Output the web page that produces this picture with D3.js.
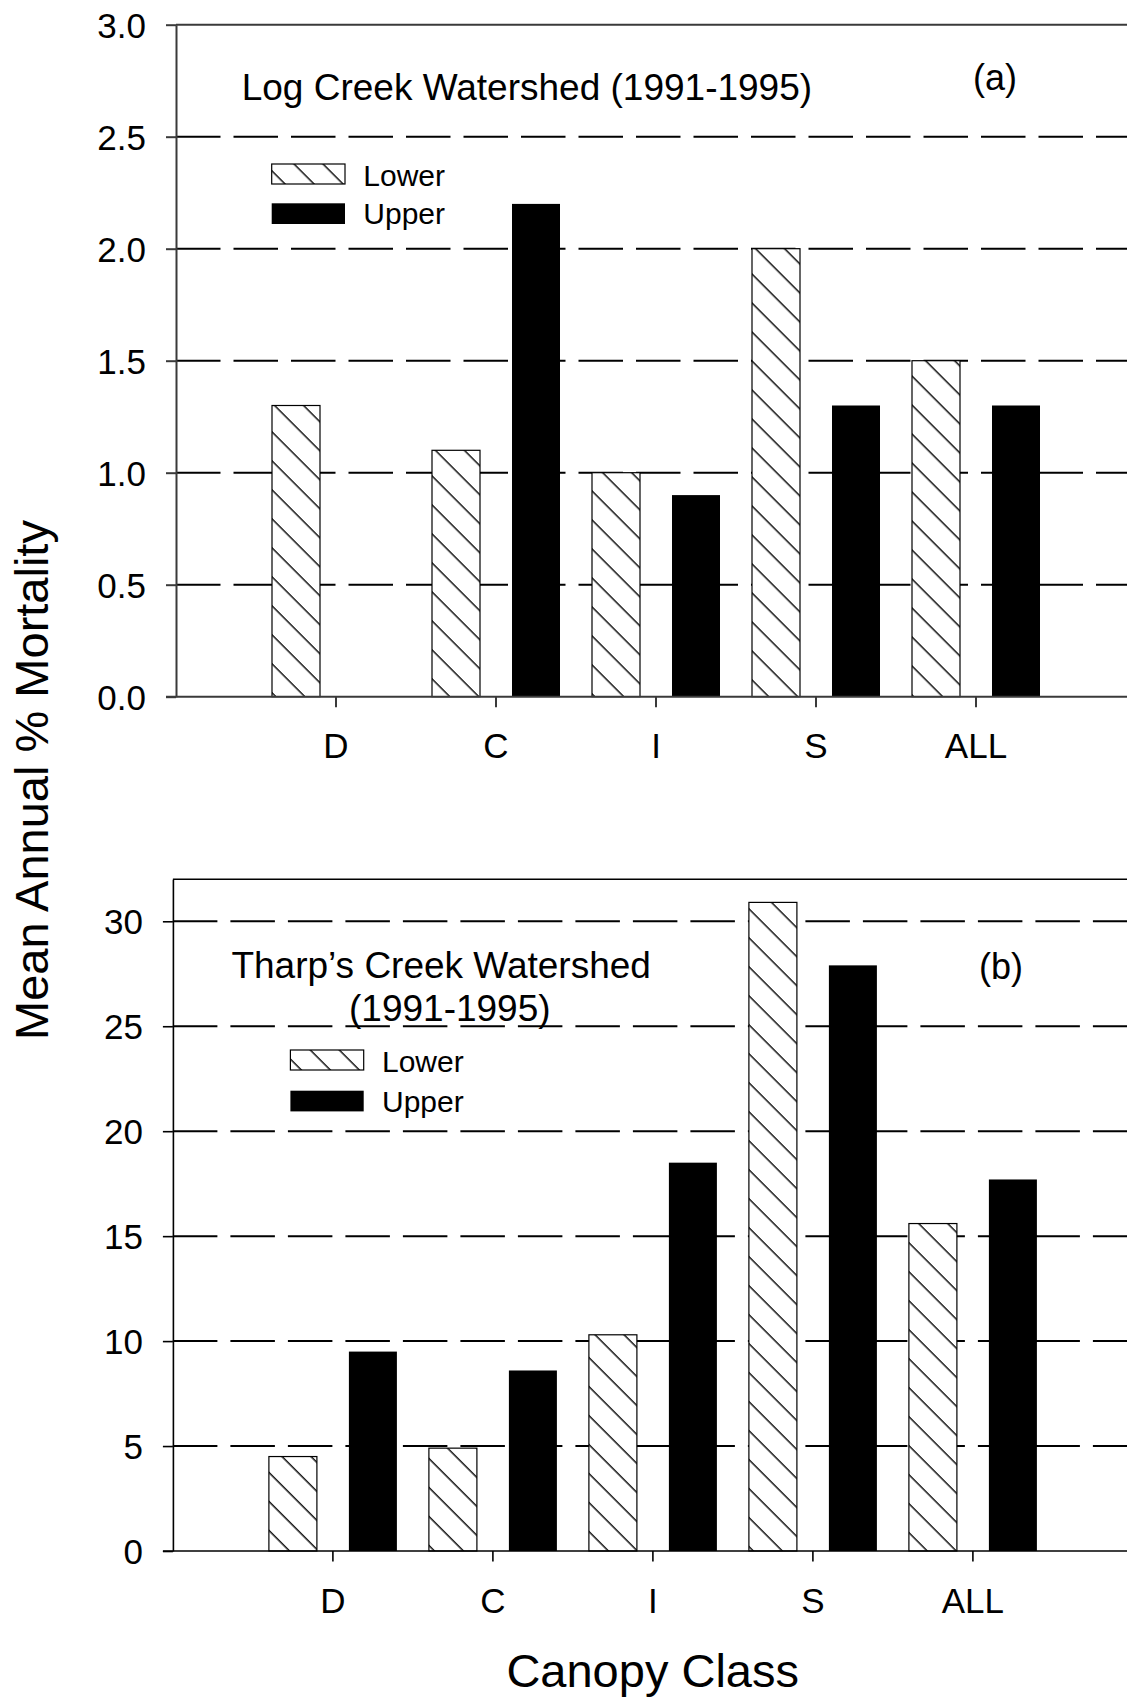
<!DOCTYPE html>
<html><head><meta charset="utf-8">
<script src="https://cdn.jsdelivr.net/npm/d3@7"></script>
<style>
body{margin:0;background:#fff}
svg{display:block}
text{font-family:"Liberation Sans",Arial,Helvetica,sans-serif;fill:#000}
</style>
</head><body>
<svg id="c" width="1127" height="1699"></svg>
<script>
// ---- data ----
const categories = ["D", "C", "I", "S", "ALL"];
const series = ["Lower", "Upper"];
const logLower = [1.3, 1.1, 1.0, 2.0, 1.5];
const logUpper = [null, 2.2, 0.9, 1.3, 1.3];
const tharpLower = [4.5, 4.9, 10.3, 30.9, 15.6];
const tharpUpper = [9.5, 8.6, 18.5, 27.9, 17.7];
const logTicks = [0, 0.5, 1.0, 1.5, 2.0, 2.5, 3.0];
const tharpTicks = [0, 5, 10, 15, 20, 25, 30];
const logTitle = ["Log Creek Watershed (1991-1995)"];
const tharpTitle = ["Tharp\u2019s Creek Watershed", "(1991-1995)"];
const yLabel = "Mean Annual % Mortality";
const xLabel = "Canopy Class";

const W = 1127;
const svg = d3.select("#c");

// hatch pattern
const defs = svg.append("defs");
const pat = defs.append("pattern").attr("id", "hatch")
  .attr("patternUnits", "userSpaceOnUse")
  .attr("width", 20.5).attr("height", 20.5)
  .attr("patternTransform", "rotate(-45)");
pat.append("rect").attr("width", 20.5).attr("height", 20.5).attr("fill", "#fff");
pat.append("line").attr("x1", 10).attr("y1", -2).attr("x2", 10).attr("y2", 23)
  .attr("stroke", "#000").attr("stroke-width", 1.4);

const panels = [
  {ax: 176, y0: 696.7, y1: 24.7, max: 3, ticks: logTicks, fmt: d3.format(".1f"),
   lower: logLower, upper: logUpper, color: "#3a3a3a", sw: 2,
   title: [{t: logTitle[0], x: 241.7, y: 100}], tag: {t: "(a)", x: 995, y: 90},
   leg: {x: 271.7, y: 164, gap: 39.3}},
  {ax: 172.9, y0: 1551, y1: 879.3, max: 32, ticks: tharpTicks, fmt: d3.format("d"),
   lower: tharpLower, upper: tharpUpper, color: "#000", sw: 1.6,
   title: [{t: tharpTitle[0], x: 231.4, y: 978.3}, {t: tharpTitle[1], x: 349, y: 1021}],
   tag: {t: "(b)", x: 1001, y: 979},
   leg: {x: 290.4, y: 1050, gap: 40.7}}
];

panels.forEach(p => {
  const g = svg.append("g");
  const y = d3.scaleLinear().domain([0, p.max]).range([p.y0, p.y1]);
  const xBand = d3.scaleBand().domain(categories).range([p.ax + 80, p.ax + 880]);
  const xSub = d3.scaleBand().domain(series).range([0, xBand.bandwidth()])
    .paddingInner(0.4).paddingOuter(0.2);

  // gridlines
  g.append("g").selectAll("line").data(p.ticks.filter(t => t > 0 && t < p.max)).join("line")
    .attr("x1", p.ax).attr("x2", W + 20)
    .attr("y1", d => y(d)).attr("y2", d => y(d))
    .attr("stroke", "#000").attr("stroke-width", 2)
    .attr("stroke-dasharray", "44.5 13");

  // bars
  const rows = [];
  categories.forEach((c, i) => {
    rows.push({c, s: "Lower", v: p.lower[i]});
    rows.push({c, s: "Upper", v: p.upper[i]});
  });
  g.append("g").selectAll("rect").data(rows.filter(d => d.v != null && d.v > 0)).join("rect")
    .attr("x", d => xBand(d.c) + xSub(d.s))
    .attr("width", xSub.bandwidth())
    .attr("y", d => y(d.v))
    .attr("height", d => y(0) - y(d.v))
    .attr("fill", d => d.s === "Lower" ? "url(#hatch)" : "#000")
    .attr("stroke", "#000").attr("stroke-width", d => d.s === "Lower" ? 1.2 : 0);

  // top border
  g.append("line").attr("x1", p.ax).attr("x2", W + 20).attr("y1", y(p.max)).attr("y2", y(p.max))
    .attr("stroke", p.color).attr("stroke-width", p.sw);
  // baseline
  g.append("line").attr("x1", p.ax - 10).attr("x2", W + 20).attr("y1", y(0)).attr("y2", y(0))
    .attr("stroke", p.color).attr("stroke-width", p.sw);

  // y axis
  const ya = g.append("g").attr("transform", `translate(${p.ax},0)`)
    .call(d3.axisLeft(y).tickValues(p.ticks).tickSize(10).tickSizeOuter(0)
      .tickPadding(20).tickFormat(p.fmt));
  ya.select(".domain").attr("stroke", p.color).attr("stroke-width", p.sw);
  ya.selectAll(".tick line").attr("stroke", p.color).attr("stroke-width", p.sw);
  ya.selectAll(".tick text").attr("font-size", 35).attr("dy", "0.36em")
    .style("font-family", "'Liberation Sans',Arial,sans-serif");

  // x axis
  const xa = g.append("g").attr("transform", `translate(0,${p.y0})`)
    .call(d3.axisBottom(xBand).tickSize(10.5).tickSizeOuter(0));
  xa.select(".domain").remove();
  xa.selectAll(".tick line").attr("stroke", p.color).attr("stroke-width", p.sw);
  xa.selectAll(".tick text").attr("font-size", 35).attr("y", 61.8).attr("dy", 0)
    .style("font-family", "'Liberation Sans',Arial,sans-serif");

  // titles
  p.title.forEach(t => {
    g.append("text").attr("x", t.x).attr("y", t.y).attr("font-size", 37).text(t.t);
  });
  g.append("text").attr("x", p.tag.x).attr("y", p.tag.y).attr("font-size", 36)
    .attr("text-anchor", "middle").text(p.tag.t);

  // legend
  const L = p.leg;
  g.append("rect").attr("x", L.x).attr("y", L.y).attr("width", 73.3).attr("height", 20)
    .attr("fill", "url(#hatch)").attr("stroke", "#000").attr("stroke-width", 1.2);
  g.append("rect").attr("x", L.x).attr("y", L.y + L.gap).attr("width", 73.3).attr("height", 20.7)
    .attr("fill", "#000");
  g.append("text").attr("x", L.x + 91.6).attr("y", L.y + 22).attr("font-size", 30).text(series[0]);
  g.append("text").attr("x", L.x + 91.6).attr("y", L.y + L.gap + 21).attr("font-size", 30).text(series[1]);
});

// axis titles
svg.append("text").attr("transform", "translate(48,780) rotate(-90)")
  .attr("text-anchor", "middle").attr("font-size", 47).text(yLabel);
svg.append("text").attr("x", 652.7).attr("y", 1686.7)
  .attr("text-anchor", "middle").attr("font-size", 47).text(xLabel);
</script>
</body></html>
